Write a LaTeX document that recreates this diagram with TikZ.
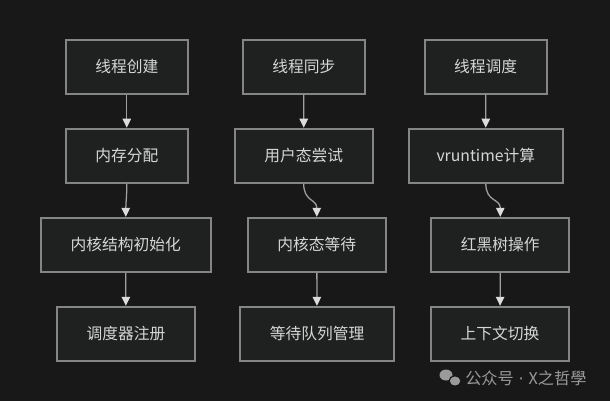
\documentclass[tikz,border=0pt]{standalone}
\usepackage{fontspec}
\setmainfont{Noto Sans CJK SC}
\newfontfamily\dotfont{DejaVu Sans}
\usepackage{xcolor}
\usetikzlibrary{arrows.meta}

\definecolor{bgdark}{HTML}{181818}
\definecolor{boxfill}{HTML}{1F2121}
\definecolor{boxline}{HTML}{858585}
\definecolor{boxtext}{HTML}{D6D6D6}
\definecolor{flowline}{HTML}{A0A0A0}
\definecolor{flowtip}{HTML}{DCDCDC}
\definecolor{markgray}{HTML}{9A9A9A}

\begin{document}
\begin{tikzpicture}[x=0.025cm, y=-0.025cm,
		stage/.style={draw=boxline, line width=1.4pt, fill=boxfill, text=boxtext,
			font=\fontsize{11.2pt}{13pt}\selectfont, inner xsep=0.74cm,
			minimum height=1.35cm},
		flow/.style={draw=flowline, line width=0.9pt,
			-{Triangle[length=6.4pt, width=6pt, color=flowtip]}}]
		%background and size of the picture
		\fill [bgdark] (0,0) rectangle (610,401);
		\useasboundingbox (0,0) rectangle (610,401);
		
		%definition of row heights
		\def\rA{66.7};
		\def\rB{155.7};
		\def\rC{244.8};
		\def\rD{333.8};
		
		%thread creation
		\node [stage] (create) at (126.8,\rA) {线程创建};
		\node [stage] (alloc) at (126.8,\rB) {内存分配};
		\node [stage] (kinit) at (125.8,\rC) {内核结构初始化};
		\node [stage] (sreg) at (125.9,\rD) {调度器注册};
		
		%thread synchronisation
		\node [stage] (sync) at (303.8,\rA) {线程同步};
		\node [stage] (utry) at (303.7,\rB) {用户态尝试};
		\node [stage] (kwait) at (316.8,\rC) {内核态等待};
		\node [stage] (wqueue) at (317,\rD) {等待队列管理};
		
		%thread scheduling
		\node [stage] (sched) at (485.7,\rA) {线程调度};
		\node [stage, inner xsep=0.7cm] (vrt) at (485.8,\rB) {vruntime计算};
		\node [stage] (rbt) at (500.3,\rC) {红黑树操作};
		\node [stage] (ctx) at (500,\rD) {上下文切换};
		
		%arrows
		\draw [flow] (create) -- (alloc);
		\draw [flow] (alloc.south) to [out=-90, in=90] (kinit.north);
		\draw [flow] (kinit) -- (sreg);
		
		\draw [flow] (sync) -- (utry);
		\draw [flow] (utry.south) to [out=-90, in=90, looseness=1.3] (kwait.north);
		\draw [flow] (kwait) -- (wqueue);
		
		\draw [flow] (sched) -- (vrt);
		\draw [flow] (vrt.south) to [out=-90, in=90, looseness=1.3] (rbt.north);
		\draw [flow] (rbt) -- (ctx);
		
		%watermark
		\fill [markgray] (446,375) ellipse [x radius=6.5, y radius=5.5];
		\fill [markgray, draw=bgdark, line width=0.8pt] (455,381) ellipse [x radius=6, y radius=5];
		\node [text=markgray, font=\fontsize{11.5pt}{13pt}\selectfont, anchor=west, inner sep=0pt] (mark) at (465,378) {公众号\hspace{0.3em}{\dotfont·}\hspace{0.3em}X之哲學};
	\end{tikzpicture}
\end{document}
